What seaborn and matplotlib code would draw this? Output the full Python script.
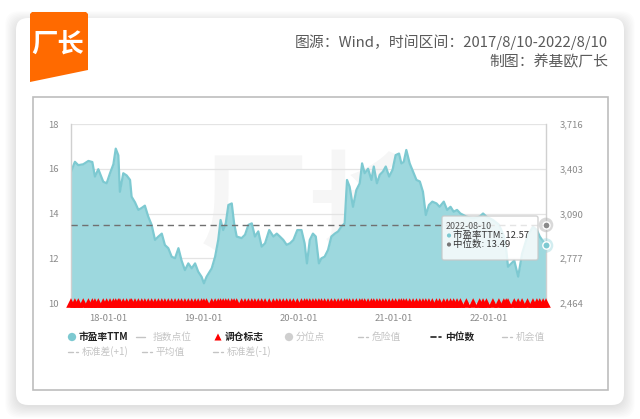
import matplotlib
matplotlib.use("Agg")
import matplotlib.pyplot as plt
import seaborn as sns
import pandas as pd
import matplotlib.dates as mdates
from matplotlib.patches import FancyBboxPatch, Rectangle, Polygon
from matplotlib.ticker import FuncFormatter

# ---------------- data ----------------
dates = [
    "2017-08-10", "2017-08-25", "2017-09-07", "2017-09-26", "2017-10-16", "2017-10-31", "2017-11-10", "2017-11-23", "2017-12-12", "2017-12-25",
    "2018-01-07", "2018-01-20", "2018-01-29", "2018-02-08", "2018-02-14", "2018-02-27", "2018-03-12", "2018-03-25", "2018-03-31", "2018-04-13",
    "2018-04-26", "2018-05-09", "2018-05-21", "2018-06-03", "2018-06-16", "2018-06-29", "2018-07-12", "2018-07-25", "2018-08-06", "2018-08-19",
    "2018-09-01", "2018-09-14", "2018-09-27", "2018-10-09", "2018-10-22", "2018-11-04", "2018-11-17", "2018-11-30", "2018-12-12", "2018-12-25",
    "2019-01-03", "2019-01-13", "2019-02-02", "2019-02-15", "2019-02-27", "2019-03-08", "2019-03-18", "2019-03-28", "2019-04-07", "2019-04-20",
    "2019-04-29", "2019-05-09", "2019-05-28", "2019-06-10", "2019-06-23", "2019-07-06", "2019-07-18", "2019-07-31", "2019-08-13", "2019-08-26",
    "2019-09-11", "2019-09-27", "2019-10-10", "2019-10-22", "2019-11-04", "2019-11-17", "2019-11-30", "2019-12-13", "2019-12-28", "2020-01-13",
    "2020-01-25", "2020-02-03", "2020-02-14", "2020-02-26", "2020-03-08", "2020-03-20", "2020-03-30", "2020-04-11", "2020-04-24", "2020-05-07",
    "2020-05-20", "2020-06-02", "2020-06-14", "2020-06-27", "2020-07-06", "2020-07-16", "2020-07-29", "2020-08-11", "2020-08-24", "2020-09-02",
    "2020-09-12", "2020-09-25", "2020-10-08", "2020-10-17", "2020-10-29", "2020-11-09", "2020-11-21", "2020-12-02", "2020-12-15", "2020-12-28",
    "2021-01-09", "2021-01-22", "2021-01-31", "2021-02-09", "2021-02-19", "2021-03-04", "2021-03-17", "2021-03-30", "2021-04-12", "2021-04-24",
    "2021-05-05", "2021-05-17", "2021-05-30", "2021-06-15", "2021-06-27", "2021-07-13", "2021-07-26", "2021-08-08", "2021-08-20", "2021-09-02",
    "2021-09-15", "2021-10-08", "2021-11-03", "2021-11-28", "2021-12-11", "2021-12-24", "2022-01-18", "2022-02-10", "2022-03-01", "2022-03-10",
    "2022-03-17", "2022-04-10", "2022-04-25", "2022-05-10", "2022-05-31", "2022-06-21", "2022-07-06", "2022-07-17", "2022-07-30", "2022-08-10",
]
pe_ttm = [
    15.87, 16.31, 16.16, 16.20, 16.35, 16.30, 15.65, 15.98, 15.42, 15.35,
    15.80, 16.20, 16.90, 16.60, 14.97, 15.80, 15.70, 15.50, 14.75, 14.50,
    14.16, 14.25, 14.35, 13.86, 13.49, 12.82, 12.97, 13.10, 12.59, 12.45,
    12.07, 12.00, 12.45, 11.90, 11.47, 11.77, 11.55, 11.77, 11.40, 11.17,
    10.88, 11.17, 11.55, 12.07, 12.82, 13.71, 13.26, 13.56, 14.38, 14.45,
    13.56, 12.97, 12.90, 13.05, 13.49, 13.56, 12.97, 13.20, 12.52, 12.67,
    13.26, 12.97, 13.10, 12.97, 12.82, 12.60, 12.67, 12.82, 13.26, 13.26,
    12.67, 11.77, 12.82, 13.10, 12.97, 11.77, 12.00, 12.07, 12.37, 12.97,
    13.10, 13.20, 13.41, 13.56, 15.50, 15.20, 14.30, 15.05, 15.35, 16.24,
    15.80, 16.00, 15.50, 16.10, 15.35, 15.73, 15.87, 16.10, 15.65, 15.95,
    16.61, 16.68, 16.24, 16.30, 16.84, 16.24, 15.87, 15.50, 15.43, 14.97,
    13.93, 14.38, 14.53, 14.45, 14.30, 14.53, 14.16, 14.30, 14.08, 14.16,
    14.00, 13.86, 13.79, 13.86, 14.00, 13.86, 13.71, 13.50, 13.00, 12.40,
    11.62, 11.90, 11.18, 12.20, 13.00, 13.41, 13.26, 12.97, 12.75, 12.57,
]
median_pe = 13.49
pe_ticks = [10, 12, 14, 16, 18]
index_ticks = [2464, 2777, 3090, 3403, 3716]
x_ticks = ["2018-01-01", "2019-01-01", "2020-01-01", "2021-01-01", "2022-01-01"]
source_text = "图源：Wind，时间区间：2017/8/10-2022/8/10"
author_text = "制图：养基欧厂长"
legend_row1 = [("市盈率TTM", "circle", True), ("指数点位", "line", False), ("调仓标志", "tri", True),
               ("分位点", "dot", False), ("危险值", "dash", False), ("中位数", "dash", True), ("机会值", "dash", False)]
legend_row2 = [("标准差(+1)", "dash", False), ("平均值", "dash", False), ("标准差(-1)", "dash", False)]

df = pd.DataFrame({"date": pd.to_datetime(dates), "pe": pe_ttm})
df["flag"] = pe_ticks[0]

# ---------------- style ----------------
sns.set_theme(style="white")
plt.rcParams['font.family'] = ['Noto Sans CJK SC', 'DejaVu Sans']

W, H = 640, 419
fig = plt.figure(figsize=(W / 100, H / 100), dpi=100)
fig.patch.set_facecolor("#ffffff")

# background decoration axis in pixel coordinates
bg = fig.add_axes([0, 0, 1, 1], zorder=0)
bg.set_xlim(0, W)
bg.set_ylim(H, 0)
bg.axis("off")

# card shadow
for i in range(10):
    pad = 1 + i * 1.2
    bg.add_patch(FancyBboxPatch((16 - pad + 1, 18 - pad + 5), 608 + 2 * pad - 2, 387 + 2 * pad - 4,
                                boxstyle="round,pad=0,rounding_size=14", fc="#000000", ec="none",
                                alpha=0.012))
bg.add_patch(FancyBboxPatch((16, 18), 608, 387, boxstyle="round,pad=0,rounding_size=12",
                            fc="#ffffff", ec="none"))
# inner frame
bg.add_patch(Rectangle((33, 97), 575, 293, fc="#ffffff", ec="#bdbdbd", lw=1.2))

# logo
bg.add_patch(Polygon([(30, 14), (32, 12), (86, 12), (88, 14), (88, 70), (30, 82)], closed=True,
                     fc="#ff6a00", ec="none"))
bg.text(58, 44, "厂长", color="white", fontsize=19, fontweight="bold", style="italic",
        ha="center", va="center")

# header text
bg.text(608, 42, source_text, ha="right", va="center", fontsize=10.7, color="#5a5a5a")
bg.text(608, 62, author_text, ha="right", va="center", fontsize=10.7, color="#5a5a5a")

# ---------------- main chart ----------------
ax = fig.add_axes([71 / W, 116 / H, 475 / W, 179 / H], zorder=2)
ax.set_facecolor("white")

# watermark
ax.text(0.5, 0.52, "厂长", transform=ax.transAxes, fontsize=78, fontweight="bold",
        style="italic", color="#000000", alpha=0.035, ha="center", va="center", zorder=0)

ax.fill_between(df["date"], pe_ticks[0], df["pe"], color="#9dd8de", lw=0, zorder=1)
sns.lineplot(data=df, x="date", y="pe", ax=ax, color="#7dc9d1", lw=1.6, zorder=2)
ax.axhline(median_pe, color="#707070", lw=1.0, dashes=(4.5, 3.2), zorder=3)

sns.scatterplot(data=df, x="date", y="flag", ax=ax, marker="^", color="#ff0000", s=48,
                edgecolor="none", linewidth=0, zorder=4, clip_on=False)

# end-point markers
last = df.iloc[-1]
ax.scatter([last["date"]], [last["pe"]], s=110, color="#9dd8de", alpha=0.45, edgecolor="none",
           clip_on=False, zorder=6)
ax.scatter([last["date"]], [last["pe"]], s=28, color="#7dc9d1", edgecolor="white", lw=1,
           clip_on=False, zorder=7)
ax.scatter([last["date"]], [median_pe], s=110, color="#bbbbbb", alpha=0.55, edgecolor="none",
           clip_on=False, zorder=6)
ax.scatter([last["date"]], [median_pe], s=26, color="#8a8a8a", edgecolor="white", lw=1,
           clip_on=False, zorder=7)

ax.set_xlim(df["date"].iloc[0], df["date"].iloc[-1])
ax.set_ylim(pe_ticks[0], pe_ticks[-1])
ax.set_yticks(pe_ticks)
ax.set_xticks(pd.to_datetime(x_ticks))
ax.xaxis.set_major_formatter(mdates.DateFormatter("%y-%m-%d"))
ax.set_xlabel("")
ax.set_ylabel("")
ax.grid(axis="y", color="#e4e4e4", lw=0.9)
ax.grid(axis="x", visible=False)
ax.set_axisbelow(True)
for s in ["top", "bottom"]:
    ax.spines[s].set_visible(False)
for s in ["left", "right"]:
    ax.spines[s].set_color("#d0d0d0")
    ax.spines[s].set_linewidth(1.0)
ax.tick_params(axis="y", length=0, pad=9, labelsize=6.8, labelcolor="#8a8a8a")
ax.tick_params(axis="x", length=3, width=0.8, color="#cccccc", pad=5, labelsize=6.8,
               labelcolor="#8a8a8a", bottom=True)

ax2 = ax.twinx()
ax2.set_ylim(index_ticks[0], index_ticks[-1])
ax2.set_yticks(index_ticks)
ax2.yaxis.set_major_formatter(FuncFormatter(lambda v, p: f"{int(round(v)):,}"))
ax2.tick_params(axis="y", length=0, pad=10, labelsize=6.8, labelcolor="#8a8a8a")
ax2.grid(False)
for s in ax2.spines.values():
    s.set_visible(False)

# ---------------- overlay: tooltip and legend ----------------
ov = fig.add_axes([0, 0, 1, 1], zorder=10)
ov.set_xlim(0, W)
ov.set_ylim(H, 0)
ov.axis("off")
ov.patch.set_alpha(0)

ov.add_patch(FancyBboxPatch((442, 216), 96, 44, boxstyle="round,pad=0,rounding_size=2",
                            fc="#ffffff", ec="#c8c8c8", lw=1.0, alpha=0.82))
ov.text(446, 226, last["date"].strftime("%Y-%m-%d"), fontsize=6.4, color="#555555", va="center")
ov.scatter([449], [235.5], s=9, color="#7dc9d1", edgecolor="none")
ov.text(453, 235, f"市盈率TTM: {last['pe']:.2f}", fontsize=6.8, color="#333333", va="center")
ov.scatter([449], [244.5], s=9, color="#777777", edgecolor="none")
ov.text(453, 244, f"中位数: {median_pe:.2f}", fontsize=6.8, color="#333333", va="center")

active_col = "#222222"
inactive_col = "#c4c4c4"


def draw_legend_item(x, y, label, kind, active):
    col_text = active_col if active else inactive_col
    if kind == "circle":
        ov.scatter([x + 4], [y], s=36, color="#7dc9d1", edgecolor="none")
        tx = x + 11
    elif kind == "dot":
        ov.scatter([x + 4], [y], s=36, color="#cfcfcf", edgecolor="none")
        tx = x + 11
    elif kind == "tri":
        ov.scatter([x + 4], [y], s=26, marker="^", color="#ff0000", edgecolor="none")
        tx = x + 11
    elif kind == "line":
        ov.plot([x, x + 9], [y, y], color=inactive_col, lw=1)
        tx = x + 17
    else:
        c = "#222222" if active else inactive_col
        ov.plot([x, x + 5], [y, y], color=c, lw=1.2 if active else 1)
        ov.plot([x + 8, x + 9.5], [y, y], color=c, lw=1.2 if active else 1)
        tx = x + 14
    ov.text(tx, y, label, fontsize=7, color=col_text, va="center", ha="left",
            fontweight="bold" if active else "normal")


row1_x = [68, 136, 214, 285, 358, 431, 502]
for (lab, kind, act), xx in zip(legend_row1, row1_x):
    draw_legend_item(xx, 337, lab, kind, act)
row2_x = [68, 142, 213]
for (lab, kind, act), xx in zip(legend_row2, row2_x):
    draw_legend_item(xx, 352, lab, kind, act)

fig.savefig("out.png", dpi=100, facecolor=fig.get_facecolor())
